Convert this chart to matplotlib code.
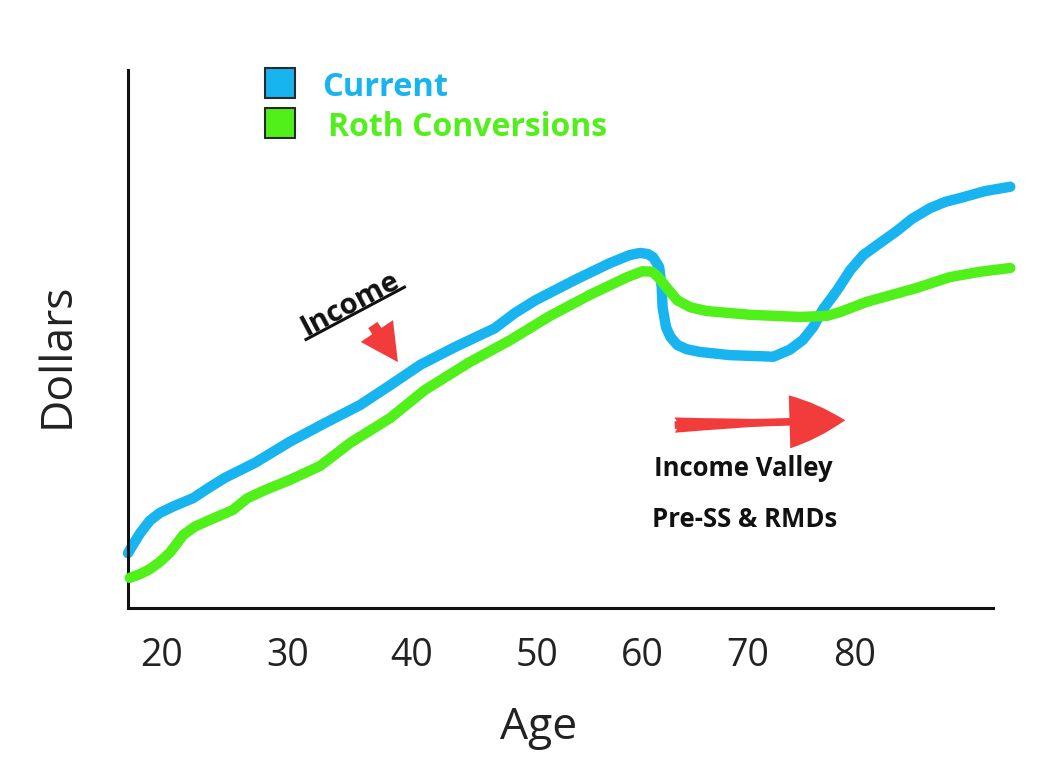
import numpy as np
import matplotlib
matplotlib.use("Agg")
import matplotlib.pyplot as plt
from matplotlib.lines import Line2D
from matplotlib.patches import FancyArrowPatch, Rectangle
from matplotlib.transforms import IdentityTransform

# horizontal position along the age axis (0 = y axis, 100 = end of x axis)
tick_pos = [3.9, 18.5, 32.8, 47.3, 59.5, 71.6, 84.0]
tick_labels = ["20", "30", "40", "50", "60", "70", "80"]

current_x = [0.0, 0.7, 1.4, 2.5, 3.7, 5.4, 7.5, 9.5, 11.2, 14.7, 18.7, 22.8,
             26.8, 30.3, 33.8, 37.8, 42.4, 44.7, 47.1, 51.7, 55.7, 58.0, 59.2,
             60.1, 60.7, 61.4, 61.7, 61.8, 62.2, 62.7, 63.5, 64.6, 66.1, 69.6,
             73.1, 74.6, 76.5, 78.0, 79.2, 80.3, 82.0, 83.5, 85.0, 86.9, 88.9,
             90.6, 92.7, 94.5, 96.2, 99.1, 102.0]
current_y = [10.2, 12.1, 13.9, 16.2, 17.7, 19.0, 20.4, 22.5, 24.2, 27.0, 30.9,
             34.4, 37.7, 41.4, 45.2, 48.5, 52.0, 54.8, 57.2, 61.0, 64.1, 65.6,
             66.0, 65.8, 65.2, 63.4, 59.7, 55.9, 52.2, 50.4, 48.9, 48.1, 47.6,
             47.0, 46.8, 46.7, 48.0, 49.8, 52.2, 55.4, 59.1, 62.8, 65.6, 67.8,
             70.1, 72.3, 74.3, 75.5, 76.2, 77.5, 78.3]

roth_x = [0.2, 1.4, 2.5, 3.7, 4.9, 6.4, 7.7, 9.5, 12.1, 13.8, 15.8, 18.7, 22.2,
          25.7, 30.3, 34.3, 39.5, 44.2, 48.8, 53.4, 57.7, 59.5, 60.6, 61.3,
          62.3, 63.5, 65.0, 66.9, 71.9, 77.7, 80.8, 82.3, 85.4, 91.2, 95.0,
          98.5, 102.0]
roth_y = [5.6, 6.3, 7.2, 8.6, 10.4, 13.6, 15.1, 16.4, 18.2, 20.4, 21.9, 23.8,
          26.4, 30.7, 35.3, 40.5, 45.7, 49.8, 54.3, 58.2, 61.5, 62.6, 62.5,
          61.5, 59.5, 57.2, 55.9, 55.2, 54.5, 54.1, 54.3, 55.0, 56.9, 59.5,
          61.5, 62.5, 63.2]

BLUE = "#17B4F0"
GREEN = "#52F01A"
RED = "#F23B3B"
INK = "#111111"

plt.rcParams["font.family"] = ["Open Sans", "DejaVu Sans"]

fig = plt.figure(figsize=(10.51, 7.81), dpi=100)
ax = fig.add_axes([128 / 1051, 1 - 608 / 781, 865 / 1051, 538 / 781])
ax.set_xlim(0, 100)
ax.set_ylim(0, 100)

for side in ["top", "right"]:
    ax.spines[side].set_visible(False)
for side in ["left", "bottom"]:
    ax.spines[side].set_linewidth(2.2)
    ax.spines[side].set_color(INK)

ax.plot(roth_x, roth_y, color=GREEN, lw=7.5, solid_capstyle="round",
        solid_joinstyle="round", clip_on=False, zorder=3)
ax.plot(current_x, current_y, color=BLUE, lw=7.5, solid_capstyle="round",
        solid_joinstyle="round", clip_on=False, zorder=2)

ax.set_xticks(tick_pos, tick_labels)
ax.set_yticks([])
ax.tick_params(axis="x", length=0, pad=21, labelsize=27, labelcolor="#222222")

ax.set_xlabel("Age", fontsize=32, color="#222222")
ax.xaxis.set_label_coords(0.475, -0.222)
ax.xaxis.label.set_verticalalignment("center")
ax.set_ylabel("Dollars", fontsize=32, color="#222222")
ax.yaxis.set_label_coords(-0.082, 0.47)
ax.yaxis.label.set_verticalalignment("center")

# legend drawn by hand: coloured squares with coloured labels
for color, label, y_px, x_txt, size in [(BLUE, "Current", 83, 322, 23.5),
                                        (GREEN, "Roth Conversions", 123, 328, 23)]:
    fig.add_artist(Rectangle((265 / 1051, 1 - (y_px + 15) / 781), 30 / 1051, 30 / 781,
                             transform=fig.transFigure, facecolor=color,
                             edgecolor="#2a2a2a", lw=1.5))
    fig.text(x_txt / 1051, 1 - (y_px + 5) / 781, label, color=color, fontsize=size,
             fontweight="bold", va="center", ha="left")

# "Income" label, rotated and underlined
angle = 28
income = ax.text(25.7, 56.5, "Income", fontsize=21, fontweight="bold",
                 ha="center", va="center", color=INK)
fig.canvas.draw()
bb = income.get_window_extent()
income.set_rotation(angle)
cx, cy = ax.transData.transform((25.7, 56.5))
t = np.deg2rad(angle)
rot = np.array([[np.cos(t), -np.sin(t)], [np.sin(t), np.cos(t)]])
ends = np.array([[-bb.width / 2 - 2, -bb.height / 2 + 4],
                 [bb.width / 2 + 2, -bb.height / 2 + 4]])
ends = ends @ rot.T + [cx, cy]
fig.add_artist(Line2D(ends[:, 0], ends[:, 1], transform=IdentityTransform(),
                      color=INK, lw=2.2))

ax.add_patch(FancyArrowPatch((28.3, 52.6), (31.2, 45.7), shrinkA=0, shrinkB=0,
                             arrowstyle="simple,head_length=27,head_width=28,tail_width=8",
                             color=RED, lw=0, mutation_scale=1))

# big tapered arrow: a thin straight shaft merged with a tapering one
for style in ["simple,head_length=40,head_width=38,tail_width=5.5",
              "fancy,head_length=40,head_width=38,tail_width=11"]:
    ax.add_patch(FancyArrowPatch((63.2, 34.0), (82.9, 34.9), shrinkA=0, shrinkB=0,
                                 arrowstyle=style, color=RED, lw=0, mutation_scale=1))

ax.text(71.1, 26.0, "Income Valley", fontsize=18.5, fontweight="bold",
        ha="center", va="center", color=INK)
ax.text(71.3, 16.5, "Pre-SS & RMDs", fontsize=18.5, fontweight="bold",
        ha="center", va="center", color=INK)

fig.savefig("out.png", dpi=100)
